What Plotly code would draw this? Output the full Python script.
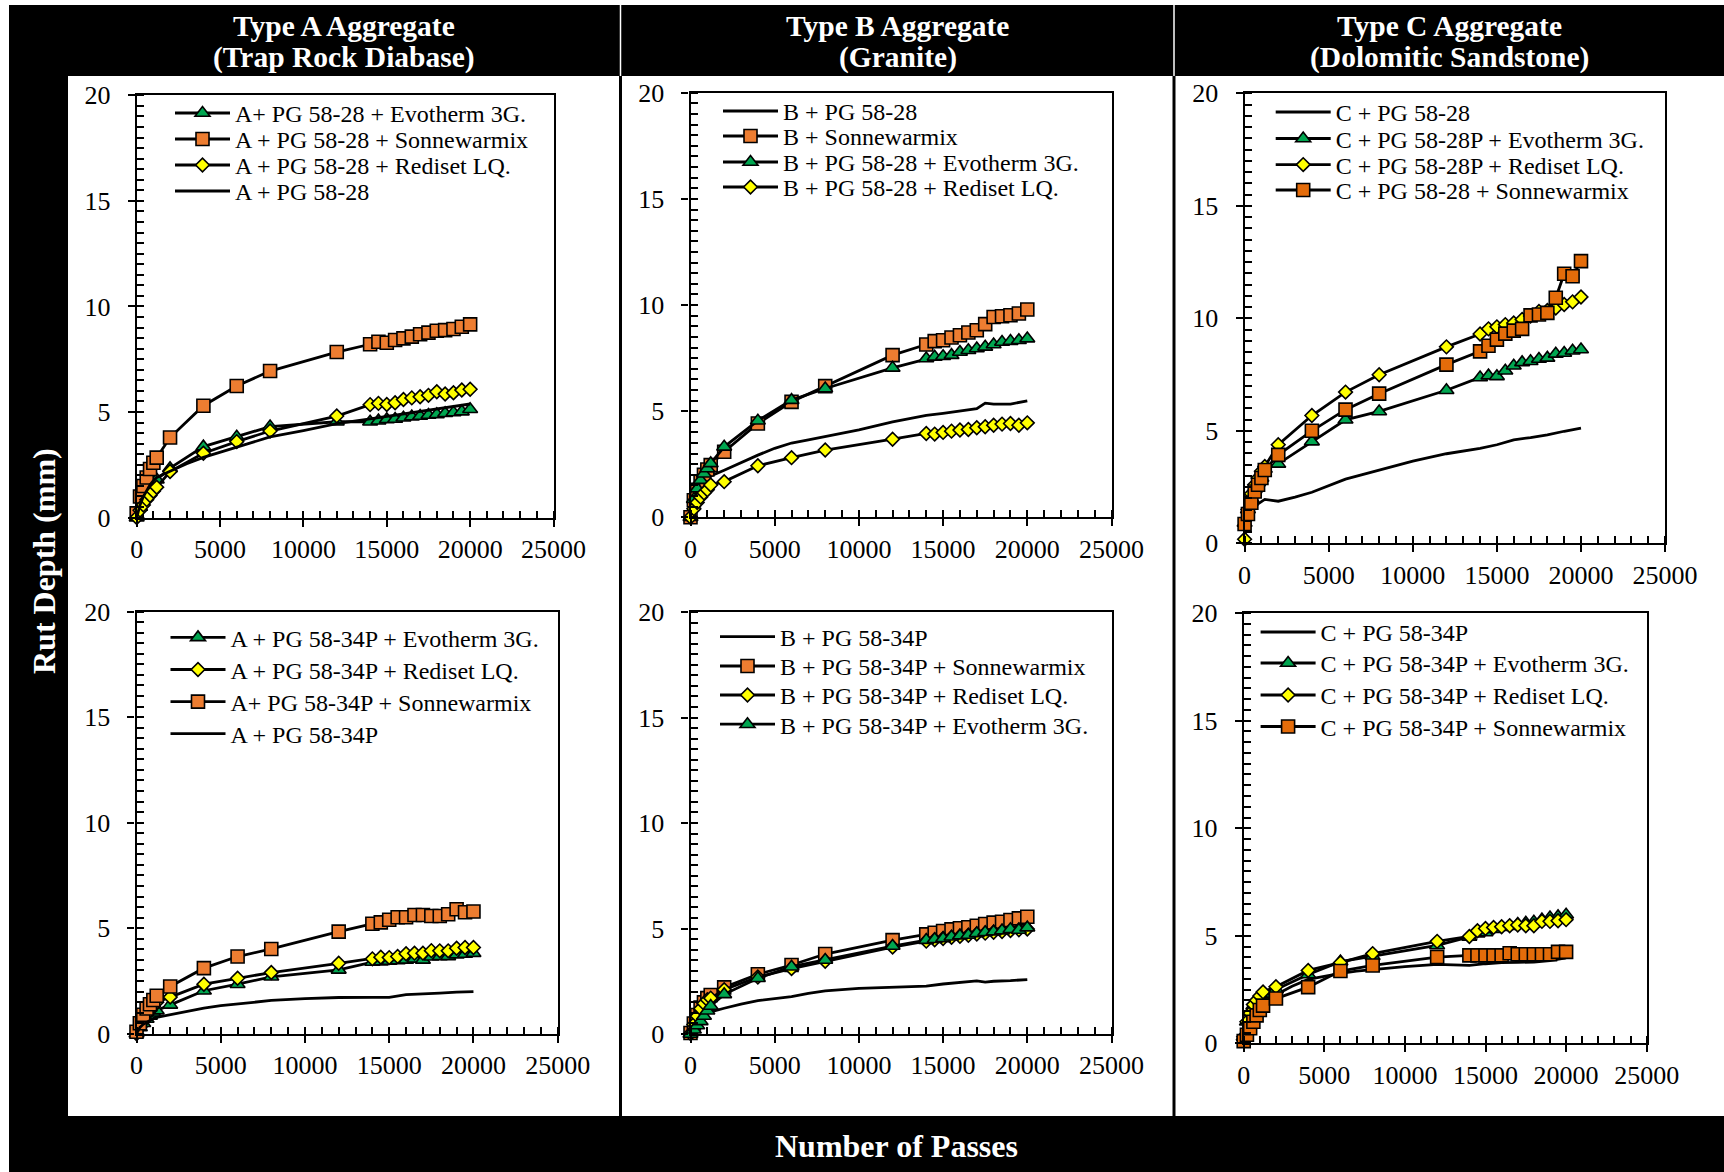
import plotly.graph_objects as go

W, H = 1724, 1172

# ---------------- data ----------------
X_MARK = [0, 200, 400, 600, 800, 1000, 1200, 2000, 4000, 6000, 8000, 12000,
          14000, 14500, 15000, 15500, 16000, 16500, 17000, 17500, 18000,
          18500, 19000, 19500, 20000]
X_LINE = [0, 200, 400, 600, 800, 1000, 1200, 2000, 3000, 4000, 5000, 6000,
          7000, 8000, 10000, 12000, 14000, 15000, 16000, 17000, 17500, 18000,
          19000, 20000]

# Type A, PG 58-28
A28_evo = [0, 0.5, 0.9, 1.2, 1.45, 1.65, 1.8, 2.34, 3.36, 3.83, 4.31, 4.54,
           4.54, 4.59, 4.65, 4.67, 4.73, 4.78, 4.81, 4.86, 4.89, 4.94, 4.98, 5.02, 5.13]
A28_son = [0.2, 1.0, 1.5, 1.9, 2.3, 2.6, 2.84, 3.79, 5.30, 6.23, 6.94, 7.84,
           8.21, 8.33, 8.28, 8.41, 8.49, 8.57, 8.68, 8.76, 8.85, 8.88, 8.93, 9.04, 9.15]
A28_red = [0, 0.35, 0.6, 0.85, 1.05, 1.25, 1.44, 2.18, 3.05, 3.60, 4.10, 4.81,
           5.35, 5.41, 5.36, 5.44, 5.59, 5.67, 5.72, 5.79, 5.96, 5.85, 5.91, 6.04, 6.08]
A28_ctl = [0, 0.6, 1.0, 1.3, 1.55, 1.75, 1.9, 2.2, 2.55, 2.85, 3.1, 3.35,
           3.6, 3.82, 4.12, 4.45, 4.68, 4.8, 4.92, 5.03, 5.08, 5.13, 5.25, 5.38]

# Type B, PG 58-28
B28_ctl = [0, 0.7, 1.1, 1.4, 1.6, 1.8, 1.95, 2.22, 2.58, 2.93, 3.25, 3.5,
           3.65, 3.8, 4.12, 4.5, 4.8, 4.9, 5.0, 5.12, 5.38, 5.33, 5.33, 5.49]
B28_son = [0, 0.8, 1.3, 1.7, 2.0, 2.25, 2.46, 3.09, 4.42, 5.44, 6.18, 7.64,
           8.14, 8.30, 8.34, 8.47, 8.58, 8.71, 8.81, 9.10, 9.44, 9.47, 9.52, 9.60, 9.79]
B28_evo = [0, 0.85, 1.35, 1.75, 2.05, 2.3, 2.54, 3.32, 4.55, 5.52, 6.07, 7.04,
           7.48, 7.56, 7.59, 7.64, 7.79, 7.87, 7.95, 8.03, 8.14, 8.26, 8.30, 8.34, 8.42]
B28_red = [0, 0.4, 0.7, 0.95, 1.15, 1.3, 1.52, 1.68, 2.43, 2.81, 3.17, 3.68,
           3.95, 3.92, 4.0, 4.06, 4.11, 4.14, 4.22, 4.27, 4.34, 4.39, 4.42, 4.34, 4.45]

# Type C, PG 58-28
C28_ctl = [0.8, 1.2, 1.45, 1.6, 1.75, 1.85, 1.95, 1.87, 2.05, 2.27, 2.55, 2.85,
           3.05, 3.26, 3.65, 3.98, 4.22, 4.38, 4.6, 4.7, 4.76, 4.82, 4.98, 5.12]
C28_evo = [0.9, 1.5, 2.0, 2.4, 2.7, 2.9, 3.3, 3.53, 4.52, 5.49, 5.86, 6.80,
           7.37, 7.45, 7.42, 7.67, 7.89, 8.04, 8.09, 8.19, 8.24, 8.42, 8.46, 8.56, 8.61]
C28_red = [0.18, 1.5, 2.2, 2.6, 2.9, 3.2, 3.41, 4.38, 5.68, 6.72, 7.49, 8.73,
           9.30, 9.53, 9.62, 9.72, 9.79, 9.95, 10.1, 10.3, 10.35, 10.46, 10.61, 10.73, 10.95]
C28_son = [0.86, 1.3, 1.8, 2.3, 2.6, 2.9, 3.26, 3.93, 5.0, 5.94, 6.65, 7.94,
           8.53, 8.78, 9.05, 9.32, 9.45, 9.53, 10.13, 10.17, 10.24, 10.91, 11.98, 11.87, 12.54]

# Type A, PG 58-34P
A34_evo = [0, 0.3, 0.5, 0.7, 0.85, 1.0, 1.1, 1.37, 2.04, 2.35, 2.7, 3.03,
           3.4, 3.42, 3.45, 3.47, 3.5, 3.55, 3.5, 3.65, 3.67, 3.67, 3.75, 3.78, 3.82]
A34_red = [0, 0.3, 0.6, 0.9, 1.1, 1.3, 1.5, 1.74, 2.35, 2.63, 2.90, 3.34,
           3.55, 3.63, 3.61, 3.66, 3.79, 3.82, 3.82, 3.94, 3.93, 3.93, 4.05, 4.09, 4.09]
A34_son = [0.1, 0.5, 0.9, 1.2, 1.4, 1.6, 1.80, 2.24, 3.11, 3.66, 4.02, 4.84,
           5.21, 5.28, 5.40, 5.52, 5.52, 5.63, 5.63, 5.58, 5.58, 5.66, 5.90, 5.76, 5.79]
A34_ctl = [0, 0.3, 0.45, 0.55, 0.65, 0.72, 0.78, 0.9, 1.07, 1.22, 1.33, 1.42,
           1.5, 1.58, 1.67, 1.72, 1.73, 1.73, 1.86, 1.88, 1.9, 1.93, 1.97, 2.0]

# Type B, PG 58-34P
B34_ctl = [0, 0.4, 0.6, 0.75, 0.88, 0.98, 1.05, 1.22, 1.42, 1.58, 1.68, 1.77,
           1.92, 2.04, 2.16, 2.21, 2.27, 2.37, 2.43, 2.52, 2.46, 2.5, 2.53, 2.58]
B34_son = [0.05, 0.5, 0.9, 1.25, 1.5, 1.7, 1.85, 2.21, 2.83, 3.27, 3.79, 4.45,
           4.72, 4.80, 4.88, 4.96, 5.01, 5.06, 5.13, 5.21, 5.28, 5.32, 5.40, 5.48, 5.56]
B34_red = [0.02, 0.45, 0.85, 1.2, 1.45, 1.62, 1.7, 2.1, 2.7, 3.1, 3.45, 4.12,
           4.4, 4.47, 4.53, 4.58, 4.63, 4.68, 4.74, 4.78, 4.82, 4.86, 4.9, 4.94, 4.98]
B34_evo = [0, 0.2, 0.4, 0.6, 0.85, 1.1, 1.33, 1.88, 2.64, 3.19, 3.51, 4.17,
           4.45, 4.49, 4.53, 4.61, 4.66, 4.69, 4.77, 4.82, 4.85, 4.90, 4.96, 4.93, 5.04]

# Type C, PG 58-34P
C34_ctl = [0.2, 0.7, 1.0, 1.3, 1.55, 1.75, 1.9, 2.26, 2.65, 2.97, 3.12, 3.25,
           3.36, 3.44, 3.57, 3.67, 3.62, 3.7, 3.75, 3.76, 3.77, 3.78, 3.85, 3.97]
C34_evo = [0.3, 1.0, 1.45, 1.75, 2.0, 2.15, 2.3, 2.5, 3.2, 3.8, 4.05, 4.55,
           4.95, 5.1, 5.15, 5.3, 5.4, 5.45, 5.55, 5.6, 5.65, 5.75, 5.85, 5.9, 5.98]
C34_red = [0.3, 1.0, 1.4, 1.8, 2.0, 2.2, 2.39, 2.63, 3.39, 3.75, 4.17, 4.74,
           4.97, 5.23, 5.34, 5.39, 5.42, 5.47, 5.50, 5.47, 5.47, 5.67, 5.67, 5.70, 5.75]
C34_son = [0.1, 0.4, 0.7, 1.0, 1.3, 1.55, 1.75, 2.08, 2.61, 3.36, 3.62, 4.01,
           4.09, 4.09, 4.09, 4.09, 4.09, 4.19, 4.14, 4.14, 4.14, 4.14, 4.14, 4.25, 4.25]

HEADER_LINE1 = ["Type A Aggregate", "Type B Aggregate", "Type C Aggregate"]
HEADER_LINE2 = ["(Trap Rock Diabase)", "(Granite)", "(Dolomitic Sandstone)"]
X_TITLE = "Number of Passes"
Y_TITLE = "Rut Depth (mm)"
X_TICKS = [0, 5000, 10000, 15000, 20000, 25000]
Y_TICKS = [0, 5, 10, 15, 20]

# series per panel: (legend name, kind, values)
PANELS = [
    [("A+ PG 58-28 + Evotherm 3G.", "tri", A28_evo),
     ("A + PG 58-28 + Sonnewarmix", "sq", A28_son),
     ("A + PG 58-28 + Rediset LQ.", "dia", A28_red),
     ("A + PG 58-28", "line", A28_ctl)],
    [("B + PG 58-28", "line", B28_ctl),
     ("B + Sonnewarmix", "sq", B28_son),
     ("B + PG 58-28 + Evotherm 3G.", "tri", B28_evo),
     ("B + PG 58-28 + Rediset LQ.", "dia", B28_red)],
    [("C + PG 58-28", "line", C28_ctl),
     ("C + PG 58-28P + Evotherm 3G.", "tri", C28_evo),
     ("C + PG 58-28P + Rediset LQ.", "dia", C28_red),
     ("C + PG 58-28 + Sonnewarmix", "sq", C28_son)],
    [("A + PG 58-34P + Evotherm 3G.", "tri", A34_evo),
     ("A + PG 58-34P + Rediset LQ.", "dia", A34_red),
     ("A+ PG 58-34P + Sonnewarmix", "sq", A34_son),
     ("A + PG 58-34P", "line", A34_ctl)],
    [("B + PG 58-34P", "line", B34_ctl),
     ("B + PG 58-34P + Sonnewarmix", "sq", B34_son),
     ("B + PG 58-34P + Rediset LQ.", "dia", B34_red),
     ("B + PG 58-34P + Evotherm 3G.", "tri", B34_evo)],
    [("C + PG 58-34P", "line", C34_ctl),
     ("C + PG 58-34P + Evotherm 3G.", "tri", C34_evo),
     ("C + PG 58-34P + Rediset LQ.", "dia", C34_red),
     ("C + PG 58-34P + Sonnewarmix", "sq", C34_son)],
]

# ---------------- layout geometry (pixels) ----------------
# plot-area boxes: x0, x1, ytop, ybottom
BOXES = [
    (136.7, 553.5, 95.3, 517.6),
    (690.5, 1111.5, 92.8, 517.3),
    (1244.6, 1665.1, 93.3, 543.3),
    (136.5, 557.7, 611.6, 1033.8),
    (690.5, 1111.5, 612.0, 1034.0),
    (1243.7, 1646.7, 613.2, 1043.3),
]
# legend: start of line sample, row centres
LEGPOS = [
    (178, [113, 139, 165, 191]),
    (726, [111, 136, 162, 187]),
    (1278.7, [112, 138.5, 164.6, 190]),
    (173.5, [637.4, 669.5, 701.6, 733.6]),
    (723, [636.6, 666, 695, 724.2]),
    (1263.6, [632, 663, 695, 726.5]),
]

ORANGE = "#ED7D31"
ORANGE_C = "#E46C0A"
GREEN = "#00A650"
YELLOW = "#FFFF00"
FONT = "Liberation Serif, Times New Roman, serif"
LEG_FS = 24
LINE_W = 2.8


def px(x):
    return x / W


def py(y):
    return 1 - y / H


fig = go.Figure()
layout = {}
legend_idx = 0
for p, series in enumerate(PANELS):
    ax = "" if p == 0 else str(p + 1)
    orange = ORANGE_C if p in (2, 5) else ORANGE
    style = {
        "tri": dict(symbol="triangle-up", size=13, color=GREEN),
        "sq": dict(symbol="square", size=13, color=orange),
        "dia": dict(symbol="diamond", size=10.5, color=YELLOW),
    }
    lx, rows = LEGPOS[p]
    for k, (name, kind, vals) in enumerate(series):
        legend_idx += 1
        lname = "legend" if legend_idx == 1 else "legend%d" % legend_idx
        if kind == "line":
            tr = go.Scatter(x=X_LINE, y=vals, mode="lines",
                            line=dict(color="black", width=LINE_W))
        else:
            s = style[kind]
            tr = go.Scatter(x=X_MARK, y=vals, mode="lines+markers",
                            line=dict(color="black", width=LINE_W),
                            marker=dict(symbol=s["symbol"], size=s["size"],
                                        color=s["color"],
                                        line=dict(color="black", width=1.6)))
        tr.update(name=name, xaxis="x" + ax, yaxis="y" + ax,
                  cliponaxis=False, legend=lname, showlegend=True)
        fig.add_trace(tr)
        layout[lname] = dict(
            x=px(lx - 8), y=py(rows[k] - (5 + (LEG_FS * 1.3 + 3) / 2)),
            xanchor="left", yanchor="top", bgcolor="rgba(0,0,0,0)",
            borderwidth=0, itemwidth=55,
            font=dict(family=FONT, size=LEG_FS, color="black"))

    x0, x1, yt, yb = BOXES[p]
    common = dict(showline=True, linecolor="black", linewidth=2.2, mirror=True,
                  showgrid=False, zeroline=False, ticks="outside", ticklen=7,
                  tickwidth=2, tickcolor="black", automargin=False,
                  tickfont=dict(family=FONT, size=26, color="black"))
    layout["xaxis" + ax] = dict(
        domain=[px(x0), px(x1)], anchor="y" + ax, range=[0, 25000],
        tickvals=X_TICKS, tickformat="d", ticklabelstandoff=0,
        minor=dict(dtick=1000, tick0=0, ticks="inside", ticklen=7,
                   tickwidth=1.6, tickcolor="black"),
        **common)
    layout["yaxis" + ax] = dict(
        domain=[py(yb), py(yt)], anchor="x" + ax, range=[0, 20],
        tickvals=Y_TICKS, ticklabelstandoff=12,
        minor=dict(dtick=0.5, tick0=0, ticks="inside", ticklen=7,
                   tickwidth=1.6, tickcolor="black"),
        **common)

# white panel backgrounds & frame pieces
shapes = []
for (a, b) in [(68, 619), (622, 1172.5), (1175.5, W)]:
    shapes.append(dict(type="rect", xref="paper", yref="paper",
                       x0=px(a), x1=px(b), y0=py(1116), y1=py(76),
                       fillcolor="white", line=dict(width=0), layer="below"))
shapes.append(dict(type="rect", xref="paper", yref="paper", x0=0, x1=px(9),
                   y0=0, y1=1, fillcolor="white", line=dict(width=0), layer="below"))
shapes.append(dict(type="rect", xref="paper", yref="paper", x0=0, x1=1,
                   y0=py(5), y1=1, fillcolor="white", line=dict(width=0), layer="below"))
for xs in (620.5, 1174):
    shapes.append(dict(type="line", xref="paper", yref="paper", x0=px(xs), x1=px(xs),
                       y0=py(76), y1=py(5), line=dict(color="white", width=1.5),
                       layer="below"))

annotations = []
for cx, l1, l2 in zip([344, 897.5, 1449], HEADER_LINE1, HEADER_LINE2):
    for txt, yy in ((l1, 26), (l2, 57)):
        annotations.append(dict(text="<b>%s</b>" % txt, x=px(cx), y=py(yy),
                                xref="paper", yref="paper", showarrow=False,
                                xanchor="center", yanchor="middle",
                                font=dict(family=FONT, size=29.5, color="white")))
annotations.append(dict(text="<b>%s</b>" % X_TITLE, x=px(896), y=py(1146),
                        xref="paper", yref="paper", showarrow=False,
                        xanchor="center", yanchor="middle",
                        font=dict(family=FONT, size=32, color="white")))
annotations.append(dict(text="<b>%s</b>" % Y_TITLE, x=px(44), y=py(561),
                        xref="paper", yref="paper", showarrow=False, textangle=-90,
                        xanchor="center", yanchor="middle",
                        font=dict(family=FONT, size=32, color="white")))

fig.update_layout(
    width=W, height=H,
    margin=dict(l=0, r=0, t=0, b=0, pad=0, autoexpand=False),
    paper_bgcolor="black", plot_bgcolor="white",
    font=dict(family=FONT, color="black"),
    shapes=shapes, annotations=annotations, **layout)

fig.write_html("out.html", config={"displayModeBar": False},
               post_script="document.body.style.margin='0';document.body.style.overflow='hidden';")
